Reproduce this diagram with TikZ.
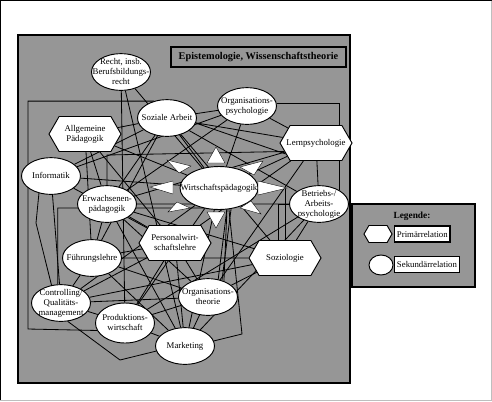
\documentclass[tikz,border=0pt]{standalone}
\usepackage{fontspec}
\setmainfont{Liberation Serif}
\usetikzlibrary{shapes.geometric,shapes.symbols,backgrounds}
\definecolor{panelgray}{RGB}{150,150,150}
\definecolor{framegray}{RGB}{190,190,190}
\newcommand{\etxt}[1]{\smash{\makebox[0pt]{\raisebox{-2pt}{\begin{tabular}{@{}c@{}}#1\end{tabular}}}}}

\begin{document}
\begin{tikzpicture}[
  x=0.3mm, y=-0.3mm,
  font=\fontsize{7.5}{8.8}\selectfont,
  sek/.style={ellipse, draw=black, line width=0.8pt, fill=white, inner sep=0pt,
              minimum width=17.7mm, minimum height=11mm},
  prim/.style={signal, signal to=east and west, signal pointer angle=120,
               draw=black, line width=0.8pt, fill=white, inner sep=0pt,
               minimum width=21.6mm, minimum height=10.5mm},
  rel/.style={line width=0.7pt},
  spitze/.style={fill=white, draw=black, line width=0.3pt},
  legbox/.style={draw=black, line width=1.1pt, fill=white, inner sep=2pt,
                 minimum height=4.8mm, anchor=west}
]
\useasboundingbox (0,0) rectangle (492,401);

% Rahmen und Flaechen
\draw[black, line width=1pt] (0.5,400.5) -- (0.5,0.5) -- (491.5,0.5);
\draw[framegray, line width=1pt] (491.5,0.5) -- (491.5,400.5) -- (0.5,400.5);
\begin{scope}[on background layer]
  \draw[fill=panelgray, line width=1.1pt] (18,35) rectangle (350,383);
\end{scope}
\node[draw=black, line width=1.3pt, fill=panelgray, minimum width=52.5mm,
  minimum height=6mm, inner sep=1pt, font=\fontsize{8.8}{10}\selectfont\bfseries]
  (titel) at (258.5,57) {Epistemologie, Wissenschaftstheorie};

% Knoten
\node[sek] (recht) at (121,72) {\etxt{Recht, insb.\\Berufsbildungs-\\recht}};
\node[sek] (sozarb) at (167,118) {\etxt{Soziale Arbeit}};
\node[sek] (orgpsy) at (247,106) {\etxt{Organisations-\\psychologie}};
\node[prim] (allgpaed) at (85,134) {\etxt{Allgemeine\\Pädagogik}};
\node[prim] (lernpsy) at (316,143) {\etxt{Lernpsychologie}};
\node[sek] (info) at (51,176) {\etxt{Informatik}};
\node[sek, minimum width=23.4mm, minimum height=12.9mm]
  (wipaed) at (219,188) {\etxt{Wirtschaftspädagogik}};
\node[sek] (erwpaed) at (107,204) {\etxt{Erwachsenen-\\pädagogik}};
\node[sek] (betrpsy) at (319,204) {\etxt{Betriebs-/\\Arbeits-\\psychologie}};
\node[prim] (perswi) at (175,243) {\etxt{Personalwirt-\\schaftslehre}};
\node[prim] (soz) at (285,258) {\etxt{Soziologie}};
\node[sek] (fuehr) at (92,258) {\etxt{Führungslehre}};
\node[sek] (contr) at (61,303) {\etxt{Controlling/\\Qualitäts-\\management}};
\node[sek] (orgth) at (208,297) {\etxt{Organisations-\\theorie}};
\node[sek, minimum height=12mm] (prodwi) at (125,323) {\etxt{Produktions-\\wirtschaft}};
\node[sek] (mark) at (185,346) {\etxt{Marketing}};

% Verbindungen
\begin{scope}[on background layer]
\draw[rel] (recht) -- (mark) (recht) -- (prodwi) (recht) -- (wipaed);
\draw[rel] (sozarb) -- (orgpsy) (sozarb) -- (allgpaed) (sozarb) -- (lernpsy)
  (sozarb.-10) -- (lernpsy.200) (sozarb) -- (betrpsy) (sozarb) -- (info)
  (sozarb) -- (erwpaed) (sozarb) -- (soz) (sozarb) -- (fuehr) (sozarb) -- (wipaed);
\draw[rel] (orgpsy) -- (lernpsy) (orgpsy) -- (wipaed) (orgpsy) -- (erwpaed)
  (orgpsy) -- (info);
\draw[rel] (allgpaed) -- (fuehr) (allgpaed) -- (erwpaed) (allgpaed) -- (wipaed)
  (allgpaed) -- (perswi);
\draw[rel] (info) -- (wipaed) (info) -- (contr) (info) -- (perswi);
\draw[rel] (erwpaed) -- (fuehr) (erwpaed) -- (perswi) (erwpaed) -- (mark)
  (erwpaed) -- (soz) (erwpaed) -- (lernpsy) (erwpaed) -- (orgth);
\draw[rel] (fuehr) -- (perswi) (fuehr) -- (contr) (fuehr) -- (orgth)
  (fuehr) -- (mark) (fuehr) -- (soz);
\draw[rel] (perswi) -- (contr) (perswi) -- (prodwi) (perswi) -- (mark)
  (perswi) -- (orgth) (perswi) -- (lernpsy);
\draw[rel] (contr) -- (orgth) (contr) -- (soz) (contr) -- (prodwi) (contr) -- (wipaed);
\draw[rel] (prodwi) -- (mark) (prodwi) -- (orgth) (prodwi) -- (betrpsy)
  (prodwi) -- (wipaed);
\draw[rel] (orgth) -- (mark) (orgth) -- (soz) (orgth) -- (lernpsy);
\draw[rel] (mark) -- (wipaed) (mark) -- (betrpsy);
\draw[rel] (lernpsy) -- (wipaed) (lernpsy) -- (betrpsy) (betrpsy) -- (soz)
  (betrpsy) -- (erwpaed);
\draw[rel] (wipaed.300) -- (orgth.50) (wipaed.290) -- (orgth.60);
% umgelenkte Linien
\draw[rel] (sozarb.128) -| (28,329) -- (prodwi.195);
\draw[rel] (info.235) -- (36,223) -- (contr.118);
\draw[rel] (contr.290) -- (120,360) -- (mark.190);
\draw[rel] (orgpsy.5) -| (betrpsy.35);
\draw[rel] (lernpsy.195) -- (107,155) -- (erwpaed.north);
\draw[rel] (contr.100) |- (227,208) -- (orgth.45);
\draw[rel] (wipaed.295) -- (242,334) -- (mark.10);
\draw[rel] (wipaed.east) -| (soz.north);
\draw[rel] (betrpsy.west) -| (soz.110);
\end{scope}

% Spitzen um Wirtschaftspaedagogik
\draw[spitze] (216,147) -- (207,163) -- (225,163) -- cycle;
\draw[spitze] (167,160) -- (191,166) -- (179,173) -- cycle;
\draw[spitze] (263,161) -- (240,167) -- (254,175) -- cycle;
\draw[spitze] (150,187) -- (173,181) -- (173,194) -- cycle;
\draw[spitze] (287,188) -- (258,181) -- (258,195) -- cycle;
\draw[spitze] (168,212) -- (177,202) -- (190,208) -- cycle;
\draw[spitze] (216,228) -- (207,212) -- (225,212) -- cycle;
\draw[spitze] (261,214) -- (240,208) -- (251,201) -- cycle;

% Legende
\draw[fill=panelgray, line width=1.1pt] (352,204) rectangle (475,287);
\node[font=\fontsize{8}{9}\selectfont\bfseries] (legtitel) at (412,216) {Legende:};
\node[prim, minimum width=8.4mm, minimum height=5.1mm] (legprim) at (378,234) {};
\node[legbox] (primrel) at (394,234) {Primärrelation};
\node[sek, minimum width=7.2mm, minimum height=6mm] (legsek) at (381,265) {};
\node[legbox] (sekrel) at (394,264.5) {Sekundärrelation};

\end{tikzpicture}
\end{document}
